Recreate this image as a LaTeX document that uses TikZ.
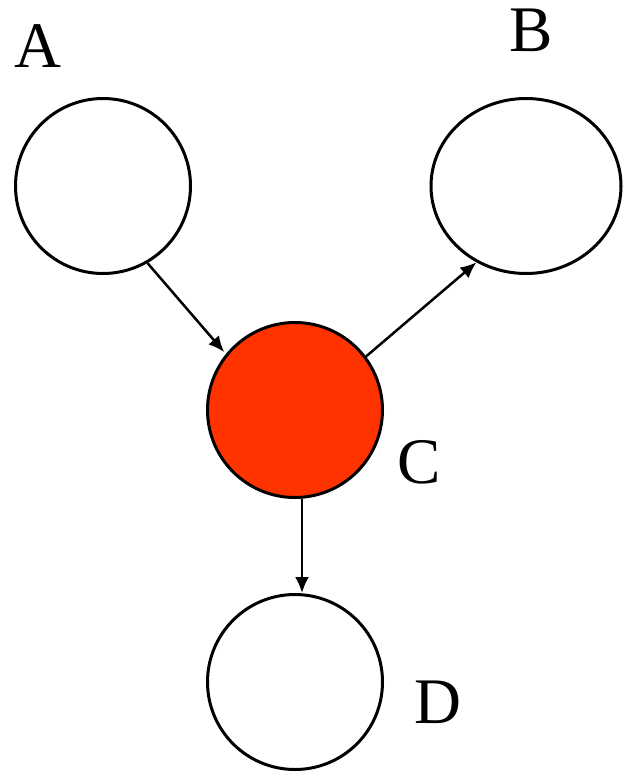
\documentclass[tikz,border=0pt]{standalone}
\usepackage{fontspec}
\setmainfont{Liberation Serif}
\usetikzlibrary{arrows.meta,shapes.geometric}
\definecolor{nodered}{RGB}{255,51,0}
\tikzset{
  bnode/.style={circle,draw=black,line width=3pt,minimum size=175pt,inner sep=0pt},
  lbl/.style={inner sep=0pt,font=\fontsize{65}{65}\selectfont},
  arr/.style={line width=2.5pt,-{Latex[length=16pt,width=14pt]}}
}
\begin{document}
\begin{tikzpicture}[x=1pt,y=-1pt]
\useasboundingbox (0,0) rectangle (623,774);
\node[bnode] (A) at (103,186) {};
\node[ellipse,draw=black,line width=3pt,minimum width=190pt,minimum height=175pt,inner sep=0pt] (B) at (526,186) {};
\node[bnode,fill=nodered] (C) at (295,410) {};
\node[bnode] (D) at (295,682) {};
\node[lbl] (lA) at (38,46) {A};
\node[lbl] (lB) at (531,30.5) {B};
\node[lbl] (lC) at (419.5,462) {C};
\node[lbl] (lD) at (438,702) {D};
\draw[arr,shorten >=2.5pt] (A.-60) -- (C.141.6);
\draw[arr] (C.37.4) -- (B.-123.5);
\draw[arr] ([xshift=7pt]C.south) -- ([xshift=7pt]D.north);
\end{tikzpicture}
\end{document}
